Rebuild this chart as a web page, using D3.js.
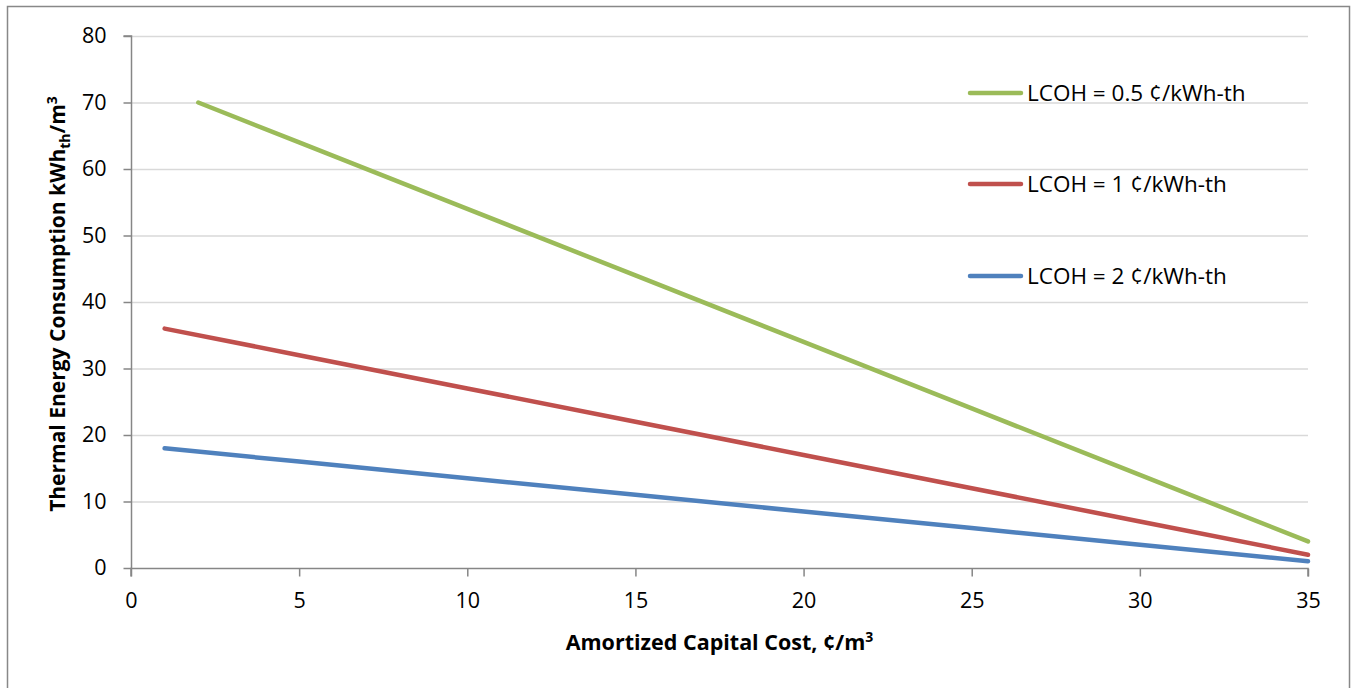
<!DOCTYPE html>
<html><head><meta charset="utf-8">
<script src="https://cdn.jsdelivr.net/npm/d3@7/dist/d3.min.js"></script>
<style>body{margin:0;background:#fff;} text{font-family:"Open Sans",sans-serif;}</style>
</head><body>
<svg id="c" width="1354" height="688"></svg>
<script>
const seriesNames = ["LCOH = 0.5 ¢/kWh-th", "LCOH = 1 ¢/kWh-th", "LCOH = 2 ¢/kWh-th"];
const seriesColors = ["#9bbb59", "#c0504d", "#4f81bd"];
const greenX = [2, 5, 10, 15, 20, 25, 30, 35];
const greenY = [70, 64, 54, 44, 34, 24, 14, 4];
const redX = [1, 5, 10, 15, 20, 25, 30, 35];
const redY = [36, 32, 27, 22, 17, 12, 7, 2];
const blueX = [1, 5, 10, 15, 20, 25, 30, 35];
const blueY = [18, 16, 13.5, 11, 8.5, 6, 3.5, 1];
const xTicks = [0, 5, 10, 15, 20, 25, 30, 35];
const yTicks = [0, 10, 20, 30, 40, 50, 60, 70, 80];

const svg = d3.select("#c");
svg.append("rect").attr("x", 7.5).attr("y", 6.5).attr("width", 1342).attr("height", 700)
  .attr("fill", "#fff").attr("stroke", "#888").attr("stroke-width", 1.5);

const L = 131, R = 1308, T = 36, B = 568;
const x = d3.scaleLinear().domain([0, 35]).range([L, R]);
const y = d3.scaleLinear().domain([0, 80]).range([B, T]);

// gridlines
svg.append("g").selectAll("line").data(yTicks.filter(d => d > 0)).join("line")
  .attr("x1", L).attr("x2", R).attr("y1", d => y(d) + 0.5).attr("y2", d => y(d) + 0.5)
  .attr("stroke", "#d9d9d9").attr("stroke-width", 1.3);

// axes
const gx = svg.append("g").attr("transform", `translate(0,${B + 0.5})`)
  .call(d3.axisBottom(x).tickValues(xTicks).tickSize(8).tickPadding(16).tickFormat(d3.format("d")));
const gy = svg.append("g").attr("transform", `translate(${L + 0.5},0)`)
  .call(d3.axisLeft(y).tickValues(yTicks).tickSize(8).tickPadding(17).tickFormat(d3.format("d")));
[gx, gy].forEach(g => {
  g.select(".domain").attr("stroke", "#868686").attr("stroke-width", 1.5);
  g.selectAll(".tick line").attr("stroke", "#868686").attr("stroke-width", 1.5);
  g.selectAll(".tick text").attr("fill", "#000").style("font-size", "21.5px").style("font-family", "'Open Sans',sans-serif");
});
gy.select(".domain").attr("d", `M-8,${y(80)}H0V${B}`);
gx.select(".domain").attr("d", `M${L},8V0H${R}V8`);

// lines
const data = [[greenX, greenY], [redX, redY], [blueX, blueY]];
const line = d3.line().x(d => x(d[0])).y(d => y(d[1]));
data.forEach((s, i) => {
  const pts = s[0].map((v, j) => [v, s[1][j]]);
  svg.append("path").datum(pts).attr("d", line).attr("fill", "none")
    .attr("stroke", seriesColors[i]).attr("stroke-width", 4.5).attr("stroke-linecap", "round");
});

// legend
const legY = [93, 184, 276];
seriesNames.forEach((n, i) => {
  svg.append("line").attr("x1", 970).attr("x2", 1021).attr("y1", legY[i]).attr("y2", legY[i])
    .attr("stroke", seriesColors[i]).attr("stroke-width", 4.5).attr("stroke-linecap", "round");
  svg.append("text").attr("x", 1027).attr("y", legY[i] + 8).style("font-size", "22.5px").text(n);
});

// axis titles
const xt = svg.append("text").attr("x", (L + R) / 2).attr("y", 650).attr("text-anchor", "middle")
  .style("font-size", "21.5px").style("font-weight", "bold");
xt.append("tspan").text("Amortized Capital Cost, ¢/m");
xt.append("tspan").text("3").attr("dy", -8).style("font-size", "14px");

const yt = svg.append("text").attr("transform", `translate(65,${(T + B) / 2 + 2}) rotate(-90)`)
  .attr("text-anchor", "middle").style("font-size", "21px").style("font-weight", "bold");
yt.append("tspan").text("Thermal Energy Consumption kWh");
yt.append("tspan").text("th").attr("dy", 5).style("font-size", "14px");
yt.append("tspan").text("/m").attr("dy", -5);
yt.append("tspan").text("3").attr("dy", -8).style("font-size", "14px");
</script>
</body></html>
